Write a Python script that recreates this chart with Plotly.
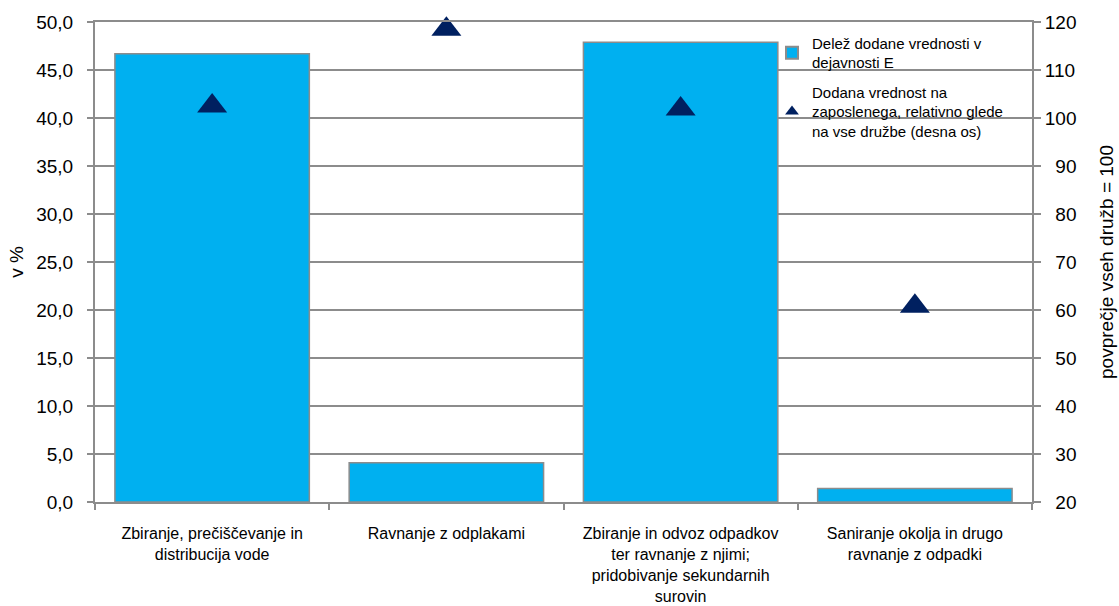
import plotly.graph_objects as go

# categories (activity groups)
categories = [
    "Zbiranje, prečiščevanje in<br>distribucija vode",
    "Ravnanje z odplakami",
    "Zbiranje in odvoz odpadkov<br>ter ravnanje z njimi;<br>pridobivanje sekundarnih<br>surovin",
    "Saniranje okolja in drugo<br>ravnanje z odpadki",
]

# share of value added in activity E (left axis, %)
share_values = [46.7, 4.1, 47.9, 1.4]

# value added per employee relative to all companies (right axis, all = 100)
relative_values = [102.5, 118.5, 101.9, 60.8]

# right axis ticks, padded with figure spaces so they line up on the right
right_tickvals = [20, 30, 40, 50, 60, 70, 80, 90, 100, 110, 120]
right_ticktext = ["\u200720", "\u200730", "\u200740", "\u200750", "\u200760", "\u200770",
                  "\u200780", "\u200790", "100", "110", "120"]

share_name = "Delež dodane vrednosti v<br>dejavnosti E"
relative_name = "Dodana vrednost na<br>zaposlenega, relativno glede<br>na vse družbe (desna os)"

FONT = "Liberation Sans, Arial, sans-serif"
AXIS_GRAY = "#8c8c8c"

fig = go.Figure()

fig.add_trace(
    go.Bar(
        x=categories,
        y=share_values,
        name=share_name,
        legendgroup="share",
        marker={"color": "#00b0f0", "line": {"color": AXIS_GRAY, "width": 1.5}},
        yaxis="y",
    )
)

fig.add_trace(
    go.Scatter(
        x=categories,
        y=relative_values,
        name=relative_name,
        legendgroup="relative",
        mode="markers",
        cliponaxis=False,
        marker={"symbol": "triangle-up", "size": 26, "color": "#002060"},
        yaxis="y2",
    )
)

fig.update_layout(
    width=1119,
    height=606,
    paper_bgcolor="white",
    plot_bgcolor="white",
    font={"family": FONT, "size": 19, "color": "#000000"},
    separators=",.",
    bargap=0.17,
    margin={"l": 95, "r": 87, "t": 22, "b": 104, "autoexpand": False},
    showlegend=True,
    legend={
        "x": 0.7225,
        "y": 0.99,
        "xanchor": "left",
        "yanchor": "top",
        "bgcolor": "rgba(0,0,0,0)",
        "font": {"size": 15},
        "itemsizing": "constant",
        "itemwidth": 30,
        "traceorder": "grouped",
        "tracegroupgap": 7,
    },
    xaxis={
        "type": "category",
        "showline": True,
        "mirror": True,
        "linecolor": AXIS_GRAY,
        "linewidth": 2,
        "ticks": "outside",
        "tickson": "boundaries",
        "ticklen": 6,
        "tickcolor": AXIS_GRAY,
        "tickwidth": 1.5,
        "showgrid": False,
        "tickfont": {"size": 16},
        "ticklabelstandoff": 16,
    },
    yaxis={
        "title": {"text": "v %", "standoff": 8, "font": {"size": 19}},
        "range": [0, 50],
        "dtick": 5,
        "tickformat": ".1f",
        "showline": True,
        "linecolor": AXIS_GRAY,
        "linewidth": 2,
        "ticks": "outside",
        "ticklen": 6,
        "tickcolor": AXIS_GRAY,
        "tickwidth": 1.5,
        "ticklabelstandoff": 10,
        "showgrid": True,
        "gridcolor": AXIS_GRAY,
        "gridwidth": 1.5,
        "zeroline": False,
        "tickfont": {"size": 19},
    },
    yaxis2={
        "title": {"text": "povprečje vseh družb = 100", "standoff": 24, "font": {"size": 19}},
        "overlaying": "y",
        "side": "right",
        "range": [20, 120],
        "tickmode": "array",
        "tickvals": right_tickvals,
        "ticktext": right_ticktext,
        "showline": True,
        "linecolor": AXIS_GRAY,
        "linewidth": 2,
        "ticks": "outside",
        "ticklen": 7,
        "tickcolor": AXIS_GRAY,
        "tickwidth": 1.5,
        "showgrid": False,
        "zeroline": False,
        "tickfont": {"size": 19},
    },
)

# drop the default page margin so the chart sits at the window's top-left corner
fig.write_html(
    "out.html",
    config={"displayModeBar": False},
    post_script="document.body.style.margin = '0';",
)
